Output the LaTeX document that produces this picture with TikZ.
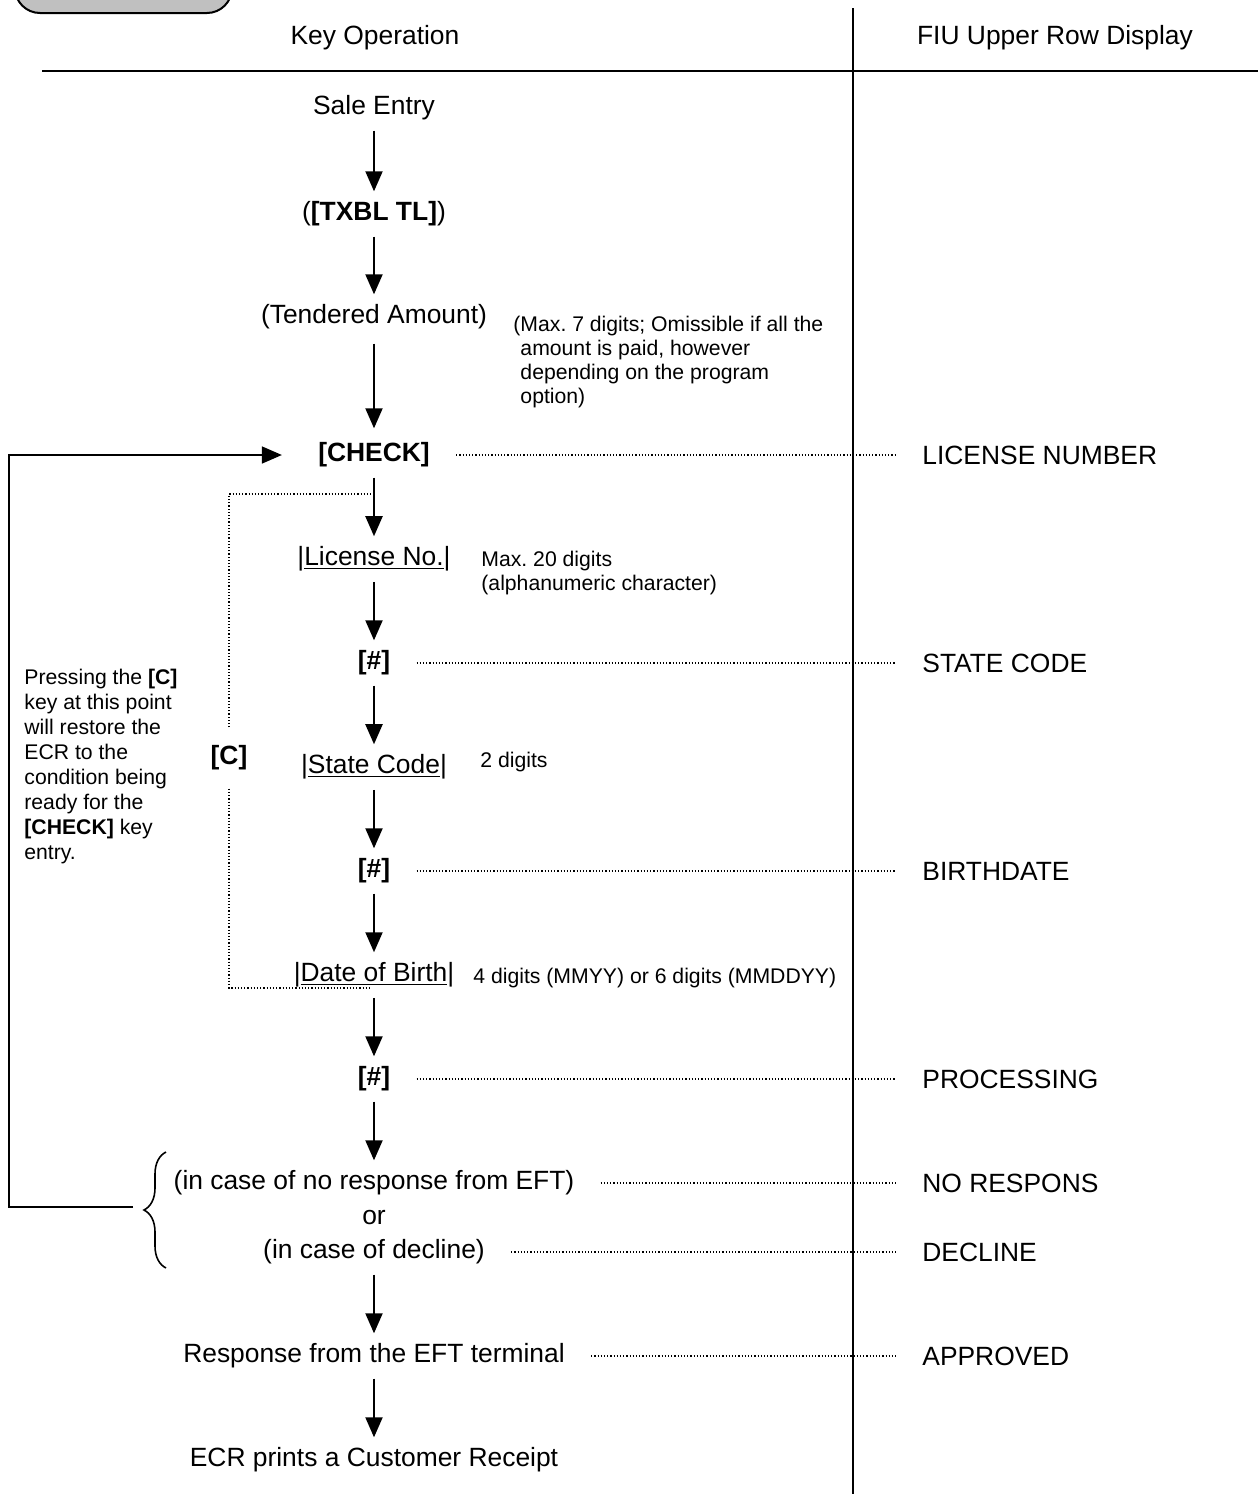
\documentclass[tikz,border=0pt]{standalone}
\usepackage{fontspec}
\setmainfont{Liberation Sans}
\usepackage{xcolor}
\usepackage{tikz}
\usetikzlibrary{arrows.meta,decorations.pathreplacing}
\definecolor{TabGray}{HTML}{C0C0C0}
\frenchspacing

\begin{document}
\begin{tikzpicture}[x=0.5pt,y=-0.5pt,
  flowtxt/.style={inner sep=0pt,font=\fontsize{13.2}{16}\selectfont},
  keytxt/.style={inner sep=0pt,font=\fontsize{13.2}{16}\selectfont\bfseries},
  disptxt/.style={inner sep=0pt,anchor=west,font=\fontsize{13.2}{16}\selectfont},
  notetxt/.style={inner sep=0pt,anchor=north west,align=left,font=\fontsize{10.6}{12}\selectfont},
  flowarrow/.style={-{Triangle[width=8.5pt,length=10pt]},line width=1pt,shorten <=5pt,shorten >=5pt},
  looparrow/.style={-{Triangle[width=8.5pt,length=10pt]},line width=0.8pt},
  dotline/.style={densely dotted,line width=0.6pt}]
\useasboundingbox (0,0) rectangle (1258,1494);
\begin{scope}
\clip (0,0) rectangle (1258,1494);
\draw[fill=TabGray,line width=1pt,rounded corners=12.5pt] (15,-60) rectangle (232,13);
\end{scope}
% table frame
\draw[line width=1pt] (853,8) -- (853,1494);
\draw[line width=1.2pt] (42,71) -- (1258,71);
\node[flowtxt] (keyhead) at (375,38) {Key Operation};
\node[flowtxt] (fiuhead) at (1055,38) {FIU Upper Row Display};
% key operation column
\node[flowtxt] (sale) at (374,108) {Sale Entry};
\node[flowtxt] (txbl) at (374,214) {(\textbf{[TXBL TL]})};
\node[flowtxt] (tender) at (374,317) {(Tendered Amount)};
\node[keytxt] (check) at (374,455) {[CHECK]};
\node[flowtxt] (license) at (374,559) {|\underline{License No.}|};
\node[keytxt] (hashA) at (374,663) {[\#]};
\node[flowtxt] (state) at (374,767) {|\underline{State Code}|};
\node[keytxt] (hashB) at (374,871) {[\#]};
\node[flowtxt] (birth) at (374,975) {|\underline{Date of Birth}|};
\node[keytxt] (hashC) at (374,1079) {[\#]};
\node[flowtxt] (noresp) at (374,1183) {(in case of no response from EFT)};
\node[flowtxt] (orword) at (374,1218) {or};
\node[flowtxt] (decline) at (374,1252) {(in case of decline)};
\node[flowtxt] (resp) at (374,1356) {Response from the EFT terminal};
\node[flowtxt] (receipt) at (374,1460) {ECR prints a Customer Receipt};
\draw[flowarrow] (sale) -- (txbl);
\draw[flowarrow] (txbl) -- (tender);
\draw[flowarrow,shorten <=7pt,shorten >=7pt] (tender) -- (check);
\draw[flowarrow] (check) -- (license);
\draw[flowarrow] (license) -- (hashA);
\draw[flowarrow] (hashA) -- (state);
\draw[flowarrow] (state) -- (hashB);
\draw[flowarrow] (hashB) -- (birth);
\draw[flowarrow] (birth) -- (hashC);
\draw[flowarrow] (hashC) -- (noresp);
\draw[flowarrow] (decline) -- (resp);
\draw[flowarrow] (resp) -- (receipt);
% notes
\node[notetxt] (tendnote) at (513,316) {(Max. 7 digits; Omissible if all the\\\hphantom{(}amount is paid, however\\\hphantom{(}depending on the program\\\hphantom{(}option)};
\node[notetxt] (licnote) at (481,551) {Max. 20 digits\\(alphanumeric character)};
\node[notetxt,anchor=west] (statenote) at (480,762) {2 digits};
\node[notetxt,anchor=west] (birthnote) at (473,978) {4 digits (MMYY) or 6 digits (MMDDYY)};
\node[notetxt,font=\fontsize{10.6}{12.5}\selectfont] (cnote) at (24,669) {Pressing the \textbf{[C]}\\key at this point\\will restore the\\ECR to the\\condition being\\ready for the\\\textbf{[CHECK]} key\\entry.};
% clear key bracket
\node[keytxt] (cnode) at (229,758) {[C]};
\coordinate (ctop) at (374,494);
\coordinate (cbot) at (370,988);
\draw[dotline,shorten <=9pt] (cnode.north) |- (ctop);
\draw[dotline,shorten <=9pt] (cnode.south) |- (cbot);
% retry loop
\draw[decorate,decoration={brace,amplitude=11pt},line width=0.8pt] (166,1268) -- (166,1152);
\coordinate (bracetip) at (133,1207);
\coordinate (loopcorner) at (9,1207);
\draw[looparrow,shorten >=18pt] (bracetip) -- (loopcorner) |- (check.west);
% display column
\node[disptxt] (licnum) at (922,455) {LICENSE NUMBER};
\node[disptxt] (stcode) at (922,663) {STATE CODE};
\node[disptxt] (bdate) at (922,871) {BIRTHDATE};
\node[disptxt] (procs) at (922,1079) {PROCESSING};
\node[disptxt] (norsp) at (922,1183) {NO RESPONS};
\node[disptxt] (decl) at (922,1252) {DECLINE};
\node[disptxt] (apprv) at (922,1356) {APPROVED};
\draw[dotline,shorten <=13pt,shorten >=13pt] (check.east) -- (check.east -| licnum.west);
\draw[dotline,shorten <=13pt,shorten >=13pt] (hashA.east) -- (hashA.east -| stcode.west);
\draw[dotline,shorten <=13pt,shorten >=13pt] (hashB.east) -- (hashB.east -| bdate.west);
\draw[dotline,shorten <=13pt,shorten >=13pt] (hashC.east) -- (hashC.east -| procs.west);
\draw[dotline,shorten <=13pt,shorten >=13pt] (noresp.east) -- (noresp.east -| norsp.west);
\draw[dotline,shorten <=13pt,shorten >=13pt] (decline.east) -- (decline.east -| decl.west);
\draw[dotline,shorten <=13pt,shorten >=13pt] (resp.east) -- (resp.east -| apprv.west);
\end{tikzpicture}
\end{document}
